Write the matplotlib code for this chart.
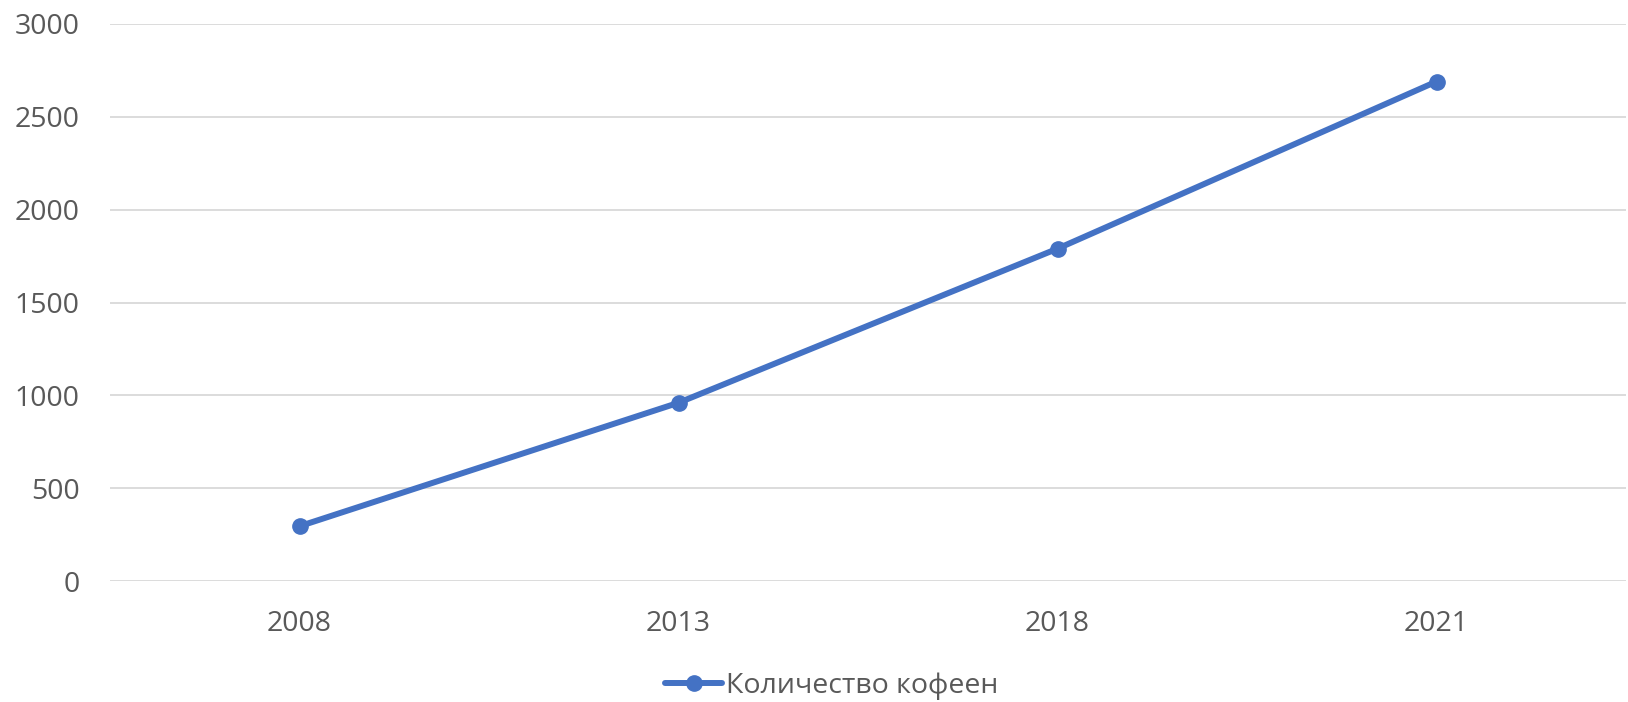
import matplotlib
matplotlib.use("Agg")
import matplotlib.pyplot as plt

years = ["2008", "2013", "2018", "2021"]
cafes = [295, 960, 1790, 2690]
series_name = "Количество кофеен"
y_ticks = [0, 500, 1000, 1500, 2000, 2500, 3000]

plt.rcParams['font.family'] = ['Open Sans', 'DejaVu Sans']

fig = plt.figure(figsize=(16.28, 7.02), dpi=100)
ax = fig.add_axes([110/1628, 1-581/702, 1516/1628, (581-24)/702])

x = list(range(len(years)))
ax.plot(x, cafes, color="#4472C4", linewidth=4.3, marker="o", markersize=11,
        solid_capstyle="round", label=series_name, zorder=3)

ax.set_xlim(-0.5, len(years) - 0.5)
ax.set_ylim(0, 3000)
ax.set_yticks(y_ticks)
ax.set_yticklabels([str(v) for v in y_ticks])
ax.set_xticks(x)
ax.set_xticklabels(years)
ax.grid(axis="y", color="#D9D9D9", linewidth=1.3)
ax.set_axisbelow(True)
for s in ax.spines.values():
    s.set_visible(False)
ax.tick_params(axis="both", length=0, labelsize=20.5, labelcolor="#595959")
ax.tick_params(axis="y", pad=22)
ax.tick_params(axis="x", pad=21)

leg = fig.legend(loc="center", bbox_to_anchor=(832/1628, 1-686/702), frameon=False,
                 fontsize=20.5, handlelength=2.0, handletextpad=0.15, borderpad=0)
for t in leg.get_texts():
    t.set_color("#595959")

fig.savefig("out.png", dpi=100, facecolor="white")
